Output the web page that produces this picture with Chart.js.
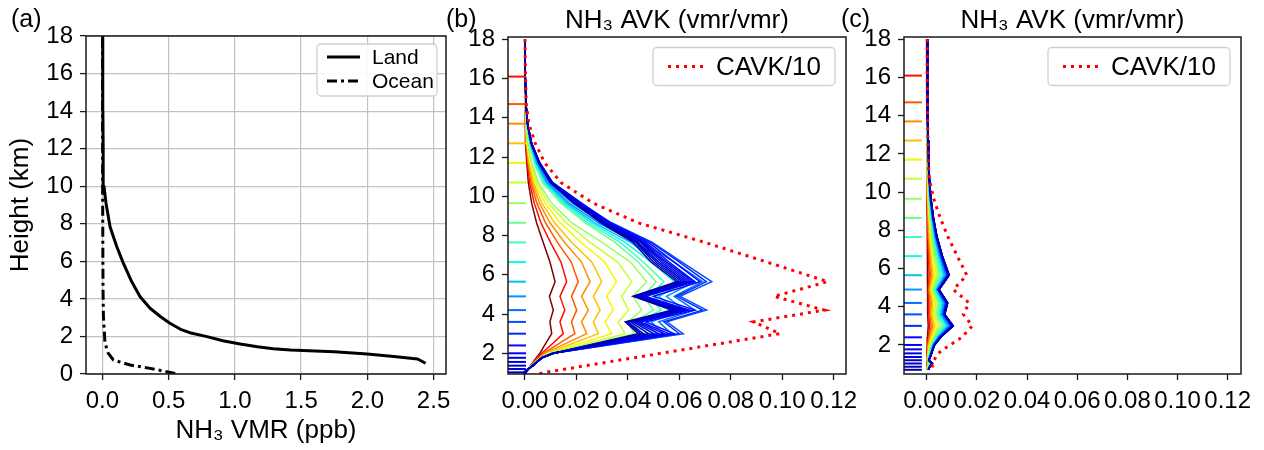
<!DOCTYPE html>
<html>
<head>
<meta charset="utf-8">
<script src="https://cdn.jsdelivr.net/npm/chart.js@4.4.1/dist/chart.umd.min.js"></script>
<style>
html,body{margin:0;padding:0;background:#fff;}
#wrap{position:relative;width:1264px;height:450px;overflow:hidden;background:#fff;}
.layer{position:absolute;left:0;top:0;width:1264px;height:450px;}
.lbl{position:absolute;font-family:"Liberation Sans",Arial,sans-serif;font-size:25px;line-height:25px;color:#000;white-space:nowrap;}
</style>
</head>
<body>
<div id="wrap">
  <div class="layer"><canvas id="ca"></canvas></div>
  <div class="layer"><canvas id="cb"></canvas></div>
  <div class="layer"><canvas id="cc"></canvas></div>
  <div class="lbl" style="left:11px;top:6px">(a)</div>
  <div class="lbl" style="left:446px;top:6px">(b)</div>
  <div class="lbl" style="left:841px;top:6px">(c)</div>
</div>
<script>
// ---------------- DATA ----------------
// Panel (a): NH3 VMR profiles (ppb) vs height (km)
const landHeight = [0.57, 0.80, 0.93, 1.06, 1.19, 1.28, 1.35, 1.45, 1.60, 1.77, 1.99, 2.20, 2.38, 2.70, 3.05, 3.50, 4.11, 4.91, 5.89, 6.78, 7.84, 9.08, 10.0, 11.9, 14.0, 16.0, 18.0];
const landVMR    = [2.44, 2.38, 2.20, 2.00, 1.75, 1.42, 1.29, 1.17, 1.04, 0.91, 0.79, 0.66, 0.59, 0.51, 0.44, 0.36, 0.285, 0.222, 0.159, 0.109, 0.058, 0.028, 0.012, 0.006, 0.004, 0.003, 0.003];
const oceanHeight = [0.03, 0.30, 0.48, 0.745, 1.10, 1.63, 3.05, 4.5, 6.0, 8.0, 10.0, 12.0, 14.0, 16.0, 18.0];
const oceanVMR    = [0.55, 0.36, 0.209, 0.083, 0.045, 0.02, 0.008, 0.005, 0.004, 0.003, 0.002, 0.002, 0.001, 0.001, 0.001];

// Retrieval levels (km), top to bottom
const levels = [18.0,16.1,14.7,13.7,12.7,11.7,10.7,9.65,8.65,7.65,6.65,5.65,4.9,4.2,3.6,3.0,2.4,2.0,1.77,1.56,1.37,1.2,1.03,0.86,0.7];
const markerLevels = [16.1,14.7,13.7,12.7,11.7,10.7,9.65,8.65,7.65,6.65,5.65,4.9,4.2,3.6,3.0,2.4,2.0,1.77,1.56,1.37,1.2,1.03,0.86,0.7];
const markerXB = -0.0031;
const markerXC = -0.0055;

// Panel (b): column AVK / 10 and AVK rows (one per level)
const cavkB = [0,.0002,.0005,.0015,.004,.0077,.014,.0265,.044,.070,.094,.1177,.0968,.1164,.0888,.0991,.0715,.0529,.0422,.0325,.0237,.0159,.008,.002,0];
const avkB00 = [0,0,.0001,.0001,.0003,.0007,.0013,.0026,.0045,.0071,.0097,.0117,.0095,.011,.0097,.0104,.0076,.0058,.0044,.0032,.0022,.0012,.0005,.0002,.0001];
const avkB01 = [0,0,.0001,.0002,.0004,.0009,.0018,.0036,.0062,.0099,.014,.0162,.0136,.0155,.0136,.0149,.0099,.0065,.0048,.0034,.0023,.0013,.0005,.0002,.0001];
const avkB02 = [0,0,.0001,.0002,.0005,.0012,.0023,.0046,.008,.0126,.018,.0207,.0181,.0201,.0181,.0194,.0121,.0072,.0052,.0036,.0024,.0013,.0005,.0002,.0001];
const avkB03 = [0,0,.0001,.0003,.0006,.0014,.0028,.0056,.0097,.0154,.022,.0253,.022,.0246,.022,.024,.0143,.0078,.0056,.0038,.0025,.0014,.0006,.0002,.0001];
const avkB04 = [0,0,.0001,.0003,.0007,.0017,.0033,.0066,.0115,.0182,.026,.0298,.0266,.0292,.0266,.0285,.0165,.0085,.006,.004,.0026,.0014,.0006,.0002,.0001];
const avkB05 = [0,0,.0002,.0004,.0008,.002,.0039,.0078,.0137,.0217,.031,.0356,.0318,.0343,.0311,.0337,.0189,.009,.0063,.0042,.0027,.0015,.0006,.0002,.0001];
const avkB06 = [0,0,.0002,.0004,.001,.0023,.0046,.0091,.016,.0253,.036,.0415,.0376,.0402,.0363,.0389,.0213,.0095,.0066,.0044,.0028,.0015,.0006,.0002,.0001];
const avkB07 = [0,0,.0002,.0005,.0011,.0026,.0052,.0104,.0182,.03,.041,.0473,.042,.0454,.04,.0425,.023,.01,.0068,.0046,.003,.0016,.0006,.0002,.0001];
const avkB08 = [0,.0001,.0003,.0007,.0018,.0036,.0068,.014,.0235,.035,.044,.051,.046,.05,.042,.045,.0241,.0102,.0062,.0044,.0029,.0012,.0004,.0001,0];
const avkB09 = [0,.0001,.0003,.0008,.0019,.0039,.0073,.0148,.0245,.037,.046,.054,.048,.053,.044,.047,.025,.0103,.0062,.0044,.0029,.0012,.0004,.0001,0];
const avkB10 = [0,.0001,.0003,.0008,.002,.0042,.0078,.0155,.0258,.039,.049,.058,.05,.056,.045,.049,.0258,.0104,.0063,.0045,.0029,.0012,.0004,.0001,0];
const avkB11 = [0,.0001,.0003,.0009,.0021,.0045,.0083,.0163,.027,.041,.052,.062,.052,.059,.047,.051,.0266,.0105,.0063,.0045,.003,.0012,.0004,.0001,0];
const avkB12 = [0,.0001,.0004,.0009,.0022,.0048,.0088,.0172,.0285,.043,.055,.066,.055,.062,.049,.054,.028,.0106,.0064,.0045,.003,.0012,.0004,.0001,0];
const avkB13 = [0,.0001,.0004,.001,.0024,.0051,.0094,.0185,.0305,.046,.058,.069,.058,.066,.052,.057,.0294,.0107,.0064,.0046,.003,.0013,.0004,.0001,0];
const avkB14 = [0,.0001,.0004,.001,.0026,.0057,.0105,.0215,.0335,.0495,.061,.0726,.0603,.0706,.0551,.0615,.0312,.0108,.0065,.0046,.0031,.0013,.0004,.0001,0];
const avkB15 = [0,.0001,.0004,.001,.0026,.0058,.0107,.0218,.0335,.049,.06,.0705,.059,.069,.054,.06,.0306,.0109,.0065,.0046,.0031,.0013,.0004,.0001,0];
const avkB16 = [0,.0001,.0004,.001,.0026,.0058,.0108,.022,.033,.048,.058,.068,.05,.066,.047,.058,.0298,.011,.0065,.0047,.0031,.0013,.0004,.0001,0];
const avkB17 = [0,.0001,.0004,.001,.0026,.0057,.0106,.0215,.0325,.047,.056,.066,.047,.064,.045,.056,.029,.011,.0066,.0047,.0031,.0013,.0004,.0002,0];
const avkB18 = [0,.0001,.0004,.001,.0026,.0057,.0105,.021,.032,.046,.055,.065,.046,.063,.044,.054,.0282,.0111,.0066,.0047,.0031,.0013,.0004,.0002,0];
const avkB19 = [0,.0001,.0004,.001,.0025,.0056,.0104,.0208,.0318,.0455,.054,.064,.045,.062,.043,.052,.0274,.0111,.0066,.0047,.0031,.0013,-.0004,.0002,0];
const avkB20 = [0,.0001,.0004,.001,.0025,.0056,.0103,.0205,.0315,.045,.053,.063,.044,.061,.042,.05,.0266,.0111,.0066,.0047,.0031,.0012,-.0004,.0002,0];
const avkB21 = [0,.0001,.0004,.001,.0025,.0055,.0102,.02,.031,.044,.052,.062,.0435,.06,.041,.048,.0258,.0112,.0066,.0047,.0031,.0012,-.0004,.0002,0];
const avkB22 = [0,.0001,.0004,.001,.0025,.0055,.0101,.0198,.0305,.0435,.051,.061,.043,.059,.04,.046,.025,.0112,.0066,.0047,.0031,.0012,-.0004,.0002,0];
const avkB23 = [0,.0001,.0004,.001,.0024,.0054,.01,.0195,.03,.043,.05,.06,.0425,.058,.0395,.045,.0246,.0112,.0066,.0047,.0031,.0012,-.0004,.0002,0];
const avkB24 = [0,.0001,.0004,.001,.0024,.0054,.0099,.019,.0295,.042,.049,.059,.042,.057,.039,.044,.0242,.0112,.0066,.0047,.0031,.0012,-.0004,.0002,0];

// Panel (c): column AVK / 10 and AVK rows (one per level)
const cavkC = [.0002,.0002,.0003,.0004,.0005,.0006,.001,.0028,.0054,.0085,.0122,.016,.0106,.0169,.0146,.0182,.014,.0093,.0066,.0046,.0036,.003,.0025,.0022,.002];
const avkC00 = [0,0,0,0,0,0,.0001,.0001,.0002,.0002,.0004,.0005,.0003,.0005,.0004,.0006,.0003,.0002,.0001,.0001,.0001,0,.0001,.0001,0];
const avkC01 = [0,0,0,.0001,.0001,.0001,.0001,.0002,.0003,.0005,.0007,.001,.0006,.0009,.0008,.0012,.0006,.0004,.0003,.0002,.0002,.0001,.0003,.0001,.0001];
const avkC02 = [0,0,.0001,.0001,.0001,.0001,.0002,.0003,.0005,.0007,.0011,.0015,.0008,.0014,.0012,.0018,.0009,.0005,.0004,.0003,.0002,.0002,.0004,.0002,.0001];
const avkC03 = [0,.0001,.0001,.0001,.0001,.0002,.0002,.0004,.0006,.0009,.0014,.002,.0011,.0019,.0016,.0024,.0012,.0007,.0006,.0004,.0003,.0002,.0005,.0003,.0002];
const avkC04 = [.0001,.0001,.0001,.0001,.0002,.0002,.0003,.0005,.0008,.0012,.0018,.0026,.0014,.0024,.0021,.0031,.0016,.0009,.0007,.0006,.0004,.0003,.0007,.0004,.0002];
const avkC05 = [.0001,.0001,.0001,.0002,.0002,.0003,.0004,.0006,.001,.0015,.0022,.0032,.0018,.003,.0026,.0038,.002,.0011,.0009,.0007,.0005,.0003,.0008,.0004,.0003];
const avkC06 = [.0001,.0001,.0002,.0002,.0003,.0004,.0005,.0007,.0012,.0018,.0027,.0039,.0021,.0036,.0031,.0046,.0024,.0014,.0011,.0009,.0006,.0004,.001,.0005,.0003];
const avkC07 = [.0001,.0001,.0002,.0002,.0003,.0004,.0006,.0009,.0014,.0021,.0032,.0046,.0025,.0043,.0037,.0054,.0029,.0016,.0013,.001,.0007,.0005,.0012,.0006,.0004];
const avkC08 = [.0001,.0002,.0002,.0003,.0004,.0005,.0006,.001,.0016,.0024,.0037,.0053,.0029,.0049,.0042,.0063,.0033,.0019,.0015,.0012,.0008,.0005,.0013,.0007,.0004];
const avkC09 = [.0001,.0002,.0002,.0003,.0004,.0005,.0007,.0011,.0018,.0027,.0041,.0059,.0032,.0055,.0047,.007,.0037,.0021,.0017,.0013,.0009,.0006,.0015,.0008,.0005];
const avkC10 = [.0001,.0002,.0003,.0003,.0005,.0006,.0008,.0012,.002,.003,.0046,.0065,.0036,.006,.0052,.0077,.004,.0023,.0018,.0014,.001,.0007,.0016,.0009,.0005];
const avkC11 = [.0001,.0002,.0003,.0004,.0005,.0006,.0008,.0013,.0021,.0032,.0049,.007,.0039,.0065,.0056,.0083,.0043,.0025,.002,.0015,.0011,.0007,.0018,.001,.0006];
const avkC12 = [.0002,.0002,.0003,.0004,.0005,.0007,.0009,.0014,.0023,.0035,.0053,.0075,.0041,.007,.006,.0089,.0047,.0026,.0021,.0017,.0012,.0008,.0019,.0011,.0006];
const avkC13 = [.0002,.0002,.0003,.0004,.0006,.0007,.001,.0015,.0024,.0037,.0056,.008,.0044,.0074,.0064,.0094,.005,.0028,.0022,.0018,.0013,.0008,.002,.0011,.0006];
const avkC14 = [.0002,.0002,.0003,.0004,.0006,.0007,.001,.0016,.0025,.0038,.0057,.0082,.0045,.0076,.0066,.0097,.0051,.0029,.0023,.0018,.0013,.0008,.0021,.0011,.0007];
const avkC15 = [.0002,.0003,.0003,.0004,.0006,.0008,.001,.0016,.0025,.0039,.0059,.0084,.0046,.0078,.0067,.0099,.0052,.0029,.0024,.0018,.0013,.0008,.0021,.0012,.0007];
const avkC16 = [.0002,.0003,.0003,.0004,.0006,.0008,.001,.0016,.0026,.0039,.006,.0085,.0047,.0079,.0068,.01,.0053,.003,.0024,.0019,.0014,.0009,.0021,.0012,.0007];
const avkC17 = [.0002,.0003,.0003,.0004,.0006,.0008,.001,.0016,.0026,.004,.006,.0086,.0047,.008,.0069,.0101,.0053,.003,.0024,.0019,.0014,.0009,.0022,.0012,.0007];
const avkC18 = [.0002,.0003,.0003,.0004,.0006,.0008,.001,.0017,.0026,.004,.0061,.0087,.0048,.0081,.007,.0103,.0054,.003,.0024,.0019,.0014,.0009,.0022,.0012,.0007];
const avkC19 = [.0002,.0003,.0004,.0004,.0006,.0008,.0011,.0017,.0026,.004,.0062,.0088,.0048,.0082,.007,.0104,.0055,.0031,.0025,.0019,.0014,.0009,.0022,.0012,.0007];
const avkC20 = [.0002,.0003,.0004,.0004,.0006,.0008,.0011,.0017,.0027,.0041,.0062,.0088,.0049,.0082,.0071,.0104,.0055,.0031,.0025,.0019,.0014,.0009,.0022,.0012,.0007];
const avkC21 = [.0002,.0003,.0004,.0004,.0006,.0008,.0011,.0017,.0027,.0041,.0062,.0089,.0049,.0083,.0071,.0105,.0055,.0031,.0025,.002,.0014,.0009,.0022,.0012,.0007];
const avkC22 = [.0002,.0003,.0004,.0004,.0006,.0008,.0011,.0017,.0027,.0041,.0063,.0089,.0049,.0083,.0072,.0105,.0056,.0031,.0025,.002,.0014,.0009,.0023,.0013,.0007];
const avkC23 = [.0002,.0003,.0004,.0005,.0006,.0008,.0011,.0017,.0027,.0041,.0063,.009,.005,.0084,.0072,.0106,.0056,.0032,.0025,.002,.0014,.0009,.0023,.0013,.0007];
const avkC24 = [.0002,.0003,.0004,.0005,.0006,.0008,.0011,.0017,.0027,.0042,.0063,.009,.005,.0084,.0072,.0106,.0056,.0032,.0025,.002,.0015,.0009,.0023,.0013,.0007];

// Tick values and labels
const xTicksA = [0, 0.5, 1.0, 1.5, 2.0, 2.5];
const xTickLabelsA = ['0.0','0.5','1.0','1.5','2.0','2.5'];
const yTicksA = [0,2,4,6,8,10,12,14,16,18];
const xTicksBC = [0, 0.02, 0.04, 0.06, 0.08, 0.10, 0.12];
const xTickLabelsBC = ['0.00','0.02','0.04','0.06','0.08','0.10','0.12'];
const yTicksBC = [2,4,6,8,10,12,14,16,18];

// ---------------- STYLE / HELPERS ----------------
const FONT = '"Liberation Sans", Arial, Helvetica, sans-serif';
Chart.defaults.font.family = FONT;
Chart.defaults.color = '#000';

function seg(p, v){
  for (let i = 1; i < p.length; i++){
    if (v <= p[i][0]){
      const [x0,y0] = p[i-1], [x1,y1] = p[i];
      return y0 + (y1-y0)*(v-x0)/(x1-x0);
    }
  }
  return p[p.length-1][1];
}
function jet(v){
  v = Math.max(0, Math.min(1, v));
  const r = seg([[0,0],[0.35,0],[0.66,1],[0.89,1],[1,0.5]], v);
  const g = seg([[0,0],[0.125,0],[0.375,1],[0.64,1],[0.91,0],[1,0]], v);
  const b = seg([[0,0.5],[0.11,1],[0.34,1],[0.65,0],[1,0]], v);
  return 'rgb(' + Math.round(r*255) + ',' + Math.round(g*255) + ',' + Math.round(b*255) + ')';
}
const pts = (xs, hs) => xs.map((v, i) => ({x: v, y: hs[i]}));

const framePlugin = {
  id: 'frame',
  afterDatasetsDraw(chart){
    const {ctx, chartArea: a} = chart;
    ctx.save();
    ctx.strokeStyle = '#1a1a1a';
    ctx.lineWidth = 1.5;
    ctx.strokeRect(a.left, a.top, a.right - a.left, a.bottom - a.top);
    ctx.restore();
  }
};
const boxLegend = {
  id: 'boxLegend',
  afterDraw(chart, args, o){
    if (!o || !o.items) return;
    const ctx = chart.ctx, a = chart.chartArea;
    const x = a.right - o.right - o.width, y = a.top + o.top;
    ctx.save();
    ctx.beginPath();
    const r = 4;
    ctx.moveTo(x + r, y);
    ctx.arcTo(x + o.width, y, x + o.width, y + o.height, r);
    ctx.arcTo(x + o.width, y + o.height, x, y + o.height, r);
    ctx.arcTo(x, y + o.height, x, y, r);
    ctx.arcTo(x, y, x + o.width, y, r);
    ctx.closePath();
    ctx.fillStyle = 'rgba(255,255,255,0.9)';
    ctx.fill();
    ctx.strokeStyle = '#d0d0d0';
    ctx.lineWidth = 1.3;
    ctx.stroke();
    ctx.font = o.fontSize + 'px ' + FONT;
    ctx.textBaseline = 'middle';
    ctx.textAlign = 'left';
    for (let i = 0; i < o.items.length; i++){
      const it = o.items[i];
      const yy = y + o.rows[i];
      ctx.strokeStyle = it.color;
      ctx.lineWidth = it.width;
      ctx.lineCap = 'butt';
      ctx.setLineDash(it.dash ? Array.from(it.dash) : []);
      ctx.beginPath();
      ctx.moveTo(x + o.lineX0, yy);
      ctx.lineTo(x + o.lineX1, yy);
      ctx.stroke();
      ctx.setLineDash([]);
      ctx.fillStyle = '#000';
      ctx.fillText(it.text, x + o.textX, yy + 1);
    }
    ctx.restore();
  }
};

function tickAxis(values, labels, fixSize, isX, extra){
  return Object.assign({
    type: 'linear',
    afterBuildTicks: s => { s.ticks = values.map(v => ({value: v})); },
    afterFit: s => {
      if (isX) s.height = fixSize; else s.width = fixSize;
      s.paddingLeft = 0; s.paddingRight = 0; s.paddingTop = 0; s.paddingBottom = 0;
    },
    ticks: {autoSkip: false, maxRotation: 0, minRotation: 0, padding: 7, color: '#000',
            font: {family: FONT, size: 24}, callback: (v, i) => labels[i]},
    grid: {drawOnChartArea: false, tickLength: 6, tickColor: '#1a1a1a', tickWidth: 1.3},
    border: {display: false}
  }, extra || {});
}

const common = {
  responsive: true, maintainAspectRatio: false, animation: false,
  events: []
};

// ---------------- PANEL (a) ----------------
new Chart(document.getElementById('ca'), {
  type: 'scatter',
  data: {datasets: [
    {label: 'Land', data: pts(landVMR, landHeight), showLine: true, borderColor: '#000', borderWidth: 3, pointRadius: 0, borderJoinStyle: 'round'},
    {label: 'Ocean', data: pts(oceanVMR, oceanHeight), showLine: true, borderColor: '#000', borderWidth: 3, borderDash: [10, 4, 3, 4], pointRadius: 0}
  ]},
  options: Object.assign({}, common, {
    layout: {padding: {left: 0, right: 818, top: 36, bottom: 0}},
    plugins: {
      legend: {display: false}, tooltip: {enabled: false},
      boxLegend: {right: 9, top: 8, width: 120, height: 52, lineX0: 10, lineX1: 43, textX: 55, rows: [13, 37], fontSize: 21,
        items: [{text: 'Land', color: '#000', width: 3}, {text: 'Ocean', color: '#000', width: 3, dash: [10, 4, 3, 4]}]}
    },
    scales: {
      x: tickAxis(xTicksA, xTickLabelsA, 76, true, {
        min: -0.1235, max: 2.594,
        grid: {drawOnChartArea: true, color: '#c2c2c2', lineWidth: 1.2, tickLength: 6, tickColor: '#1a1a1a', tickWidth: 1.3},
        title: {display: true, text: 'NH₃ VMR (ppb)', color: '#000', font: {family: FONT, size: 26}, padding: {top: 0, bottom: 4}}
      }),
      y: tickAxis(yTicksA, yTicksA.map(String), 86, false, {
        min: 0, max: 18,
        grid: {drawOnChartArea: true, color: '#c2c2c2', lineWidth: 1.2, tickLength: 6, tickColor: '#1a1a1a', tickWidth: 1.3},
        title: {display: true, text: 'Height (km)', color: '#000', font: {family: FONT, size: 26}, padding: {top: 5, bottom: 0}}
      })
    }
  }),
  plugins: [framePlugin, boxLegend]
});

// ---------------- PANELS (b) and (c) ----------------
function avkPanel(canvasId, tables, cavk, markerX, xr, yr, padLeft, padRight){
  const curves = tables.map((vals, k) => ({
    data: pts(vals, levels), showLine: true, borderColor: jet(levels[k] / 18),
    borderWidth: 1.5, pointRadius: 0
  })).reverse();
  const markers = {
    data: markerLevels.map(h => ({x: markerX, y: h})), showLine: false,
    pointStyle: 'line', pointRadius: 9, pointBorderWidth: 2,
    pointBorderColor: markerLevels.map(h => jet(h / 18)),
    pointBackgroundColor: markerLevels.map(h => jet(h / 18))
  };
  const cav = {label: 'CAVK/10', data: pts(cavk, levels), showLine: true, borderColor: '#ff0000',
    borderWidth: 3, borderDash: [3, 5], borderCapStyle: 'butt', pointRadius: 0};
  return new Chart(document.getElementById(canvasId), {
    type: 'scatter',
    data: {datasets: [cav, markers].concat(curves)},
    options: Object.assign({}, common, {
      layout: {padding: {left: padLeft, right: padRight, top: 0, bottom: 0}},
      plugins: {
        legend: {display: false}, tooltip: {enabled: false},
        title: {display: true, text: 'NH₃ AVK (vmr/vmr)', fullSize: false, color: '#000',
                font: {family: FONT, size: 26, weight: 'normal'}, padding: {top: 5, bottom: 0.8}},
        boxLegend: {right: 11, top: 10.5, width: 182, height: 38, lineX0: 15, lineX1: 55, textX: 63, rows: [19], fontSize: 26,
          items: [{text: 'CAVK/10', color: '#ff0000', width: 3, dash: [3, 5]}]}
      },
      scales: {
        x: tickAxis(xTicksBC, xTickLabelsBC, 76, true, {min: xr[0], max: xr[1]}),
        y: tickAxis(yTicksBC, yTicksBC.map(String), 60, false, {min: yr[0], max: yr[1]})
      }
    }),
    plugins: [framePlugin, boxLegend]
  });
}

avkPanel('cb',
  [avkB00,avkB01,avkB02,avkB03,avkB04,avkB05,avkB06,avkB07,avkB08,avkB09,avkB10,avkB11,avkB12,
   avkB13,avkB14,avkB15,avkB16,avkB17,avkB18,avkB19,avkB20,avkB21,avkB22,avkB23,avkB24],
  cavkB, markerXB, [-0.0066, 0.1248], [0.945, 18.117], 448, 418);

avkPanel('cc',
  [avkC00,avkC01,avkC02,avkC03,avkC04,avkC05,avkC06,avkC07,avkC08,avkC09,avkC10,avkC11,avkC12,
   avkC13,avkC14,avkC15,avkC16,avkC17,avkC18,avkC19,avkC20,avkC21,avkC22,avkC23,avkC24],
  cavkC, markerXC, [-0.00905, 0.1253], [0.48, 18.12], 844, 23);
</script>
</body>
</html>
